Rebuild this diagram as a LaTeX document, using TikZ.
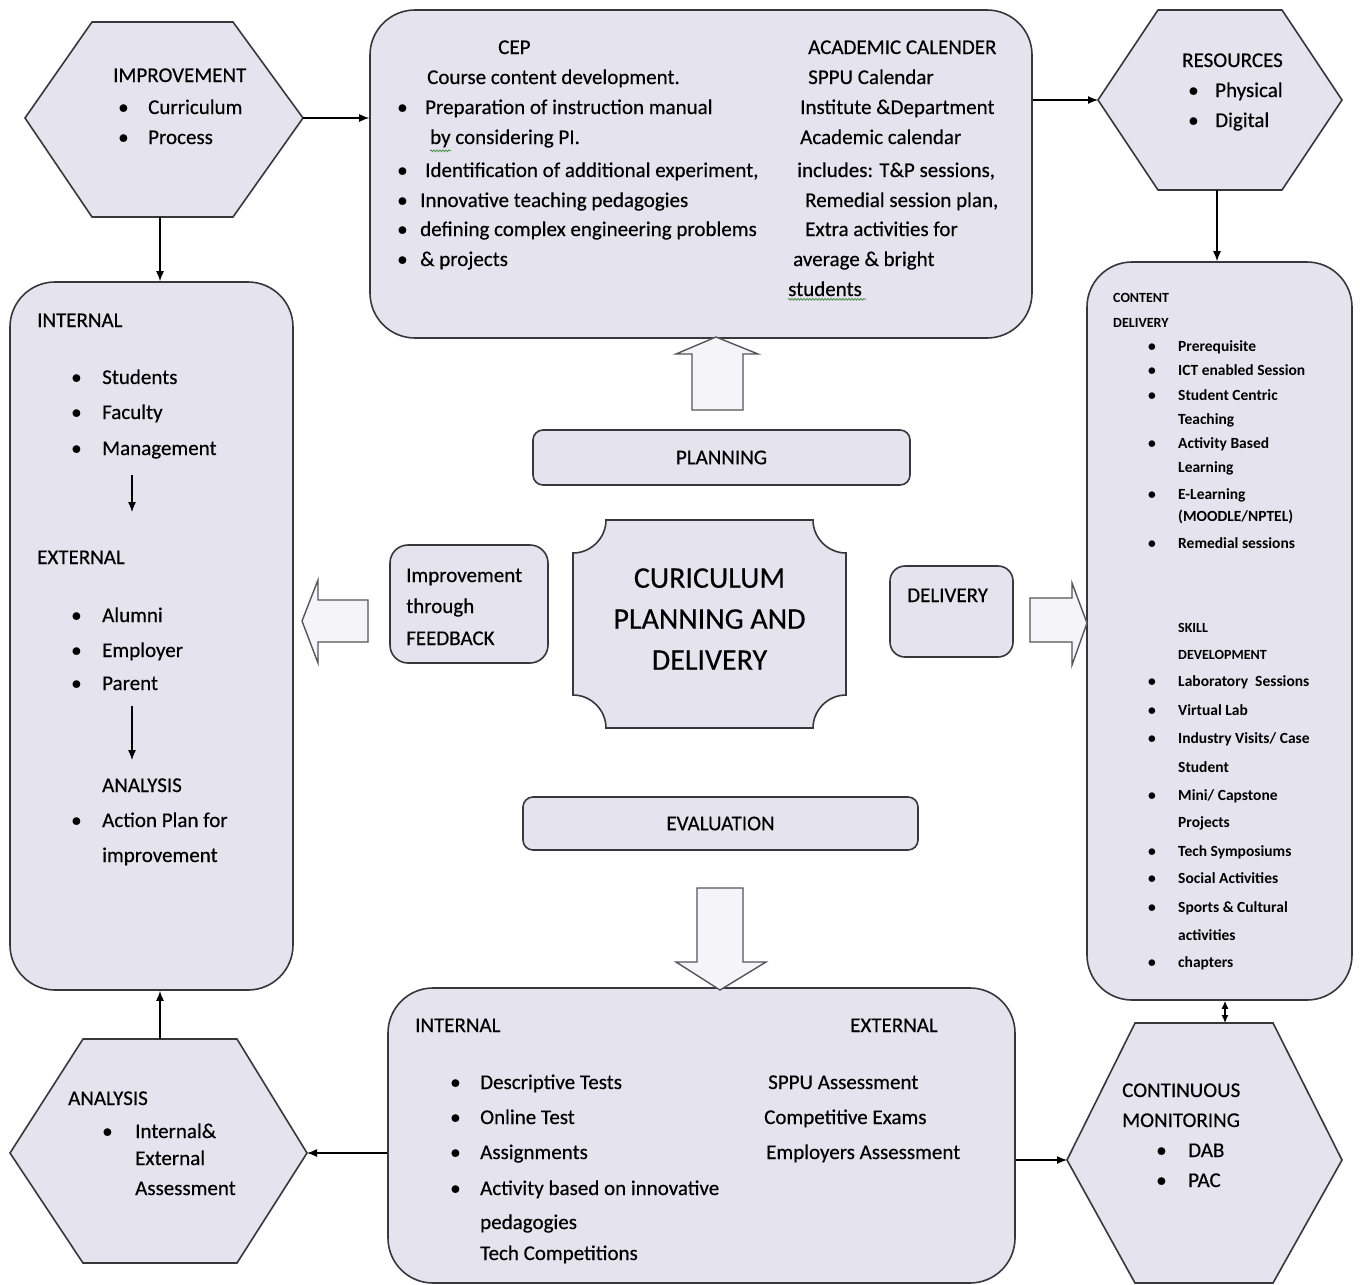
\documentclass[tikz,border=0pt]{standalone}
\usepackage{fontspec}
\setmainfont{Carlito}[FakeBold=0.35]
\newfontfamily\boldish{Carlito Bold}
\usetikzlibrary{arrows.meta,decorations.pathmorphing}
\definecolor{boxfill}{RGB}{229,227,238}
\definecolor{boxline}{RGB}{55,55,60}
\definecolor{arrfill}{RGB}{244,244,249}
\definecolor{arrline}{RGB}{85,85,90}
\definecolor{squig}{RGB}{60,140,60}
\begin{document}
\begin{tikzpicture}[x=1pt,y=-1pt,
  box/.style={draw=boxline, fill=boxfill, line width=1.6pt, rounded corners=45pt, inner sep=0pt},
  hexa/.style={draw=boxline, fill=boxfill, line width=1.6pt, line join=miter},
  blk/.style={draw=arrline, fill=arrfill, line width=1.4pt, line join=miter},
  conn/.style={line width=1.3pt, -{Latex[length=10pt,width=8pt]}},
  tx/.style={anchor=base west, inner sep=0pt, font=\fontsize{21}{24}\selectfont},
  sm/.style={anchor=base west, inner sep=0pt, font=\fontsize{15.5}{17}\boldish},
  smh/.style={anchor=base west, inner sep=0pt, font=\fontsize{14}{15}\boldish},
  mid/.style={font=\fontsize{21}{24}\selectfont}
]
\useasboundingbox (0,0) rectangle (1360,1285);
\fill[white] (0,0) rectangle (1360,1285);

% ---------- main rounded boxes ----------
\node[box, minimum width=283pt, minimum height=708pt] (lbox) at (151.5,636) {};
\node[box, minimum width=662pt, minimum height=328pt] (top) at (701,174) {};
\node[box, minimum width=265pt, minimum height=738pt] (rbox) at (1219.5,631) {};
\node[box, minimum width=627pt, minimum height=295pt] (bbox) at (701.5,1135.5) {};
\node[box, rounded corners=10pt, minimum width=377pt, minimum height=55pt, mid] (plan) at (721.5,457.5) {PLANNING};
\node[box, rounded corners=10pt, minimum width=395pt, minimum height=53pt, mid] (eval) at (720.5,823.5) {EVALUATION};
\node[box, rounded corners=18pt, minimum width=158pt, minimum height=118pt] (fb) at (469,604) {};
\node[box, rounded corners=15pt, minimum width=123pt, minimum height=91pt] (dl) at (951.5,611.5) {};

% ---------- hexagons ----------
\draw[hexa] (25,118) -- (92,22) -- (233,22) -- (303,118) -- (233,217) -- (92,217) -- cycle;
\coordinate (imp-r) at (303,118);
\coordinate (imp-b) at (160,217);
\draw[hexa] (1098,100) -- (1158,10) -- (1282,10) -- (1342,100) -- (1282,190) -- (1158,190) -- cycle;
\coordinate (res-l) at (1098,100);
\coordinate (res-b) at (1217,190);
\draw[hexa] (10,1153) -- (83,1039) -- (237,1039) -- (307,1153) -- (237,1263) -- (83,1263) -- cycle;
\coordinate (ana-r) at (307,1153);
\coordinate (ana-t) at (160,1039);
\draw[hexa] (1067,1160) -- (1135,1023) -- (1273,1023) -- (1342,1160) -- (1273,1283) -- (1135,1283) -- cycle;
\coordinate (mon-l) at (1067,1160);
\coordinate (mon-t) at (1225,1023);

% ---------- central plaque ----------
\draw[hexa] (606,520) -- (813,520) .. controls (813,538) and (828,553) .. (846,553)
  -- (846,695) .. controls (828,695) and (813,710) .. (813,728)
  -- (606,728) .. controls (606,710) and (591,695) .. (573,695)
  -- (573,553) .. controls (591,553) and (606,538) .. (606,520) -- cycle;
\node[inner sep=0pt, align=center, font=\fontsize{30}{41}\selectfont] (core) at (709.5,619) {CURICULUM\\PLANNING AND\\DELIVERY};

% ---------- block arrows ----------
\draw[blk] (692,410) -- (692,354) -- (676,354) -- (716,337) -- (758,354) -- (743,354) -- (743,410) -- cycle;
\draw[blk] (697,888) -- (743,888) -- (743,962) -- (766,962) -- (720,990) -- (676,962) -- (697,962) -- cycle;
\draw[blk] (368,600) -- (318,600) -- (318,580) -- (302,621) -- (318,663) -- (318,642) -- (368,642) -- cycle;
\draw[blk] (1030,598) -- (1072,598) -- (1072,583) -- (1087,623) -- (1072,665) -- (1072,642) -- (1030,642) -- cycle;

% ---------- connectors ----------
\draw[conn] (imp-r) -- (imp-r -| top.west);
\draw[conn] (imp-b) -- (imp-b |- lbox.north);
\draw[conn] (top.east |- res-l) -- (res-l);
\draw[conn] (res-b) -- (res-b |- rbox.north);
\draw[line width=1.3pt, {Latex[length=8pt,width=7pt]}-{Latex[length=8pt,width=7pt]}] (mon-t |- rbox.south) -- (mon-t);
\draw[conn] (bbox.east |- mon-l) -- (mon-l);
\draw[conn] (bbox.west |- ana-r) -- (ana-r);
\draw[conn] (ana-t) -- (ana-t |- lbox.south);
\coordinate (i1s) at (132,475); \coordinate (i1e) at (132,512);
\coordinate (i2s) at (132,706); \coordinate (i2e) at (132,760);
\draw[conn] (i1s) -- (i1e);
\draw[conn] (i2s) -- (i2e);

% ---------- IMPROVEMENT hexagon text ----------
\node[tx] (imp0) at (113,82) {IMPROVEMENT};
\node[tx] (imp1b) at (118,114) {•};
\node[tx] (imp1) at (148,114) {Curriculum};
\node[tx] (imp2b) at (118,144) {•};
\node[tx] (imp2) at (148,144) {Process};

% ---------- top box text ----------
\node[tx] (c0) at (498,54) {CEP};
\node[tx] (c1) at (427,84) {Course content development.};
\node[tx] (c2b) at (397,114) {•};
\node[tx] (c2) at (425,114) {Preparation of instruction manual};
\node[tx] (c3) at (430,144) {by considering PI.};
\node[tx] (c4b) at (397,177) {•};
\node[tx] (c4) at (425,177) {Identification of additional experiment,};
\node[tx] (c5b) at (397,207) {•};
\node[tx] (c5) at (420,207) {Innovative teaching pedagogies};
\node[tx] (c6b) at (397,236) {•};
\node[tx] (c6) at (420,236) {defining complex engineering problems};
\node[tx] (c7b) at (397,266) {•};
\node[tx] (c7) at (420,266) {\& projects};
\node[tx] (a0) at (808,54) {ACADEMIC CALENDER};
\node[tx] (a1) at (808,84) {SPPU Calendar};
\node[tx] (a2) at (800,114) {Institute \&Department};
\node[tx] (a3) at (800,144) {Academic calendar};
\node[tx] (a4) at (797,177) {includes: T\&P sessions,};
\node[tx] (a5) at (805,207) {Remedial session plan,};
\node[tx] (a6) at (805,236) {Extra activities for};
\node[tx] (a7) at (793,266) {average \& bright};
\node[tx] (a8) at (788,296) {students};
\draw[squig, line width=0.7pt, decorate, decoration={snake, amplitude=0.9pt, segment length=3pt}] (a8.south west) ++(0,3) -- ++(78,0);
\draw[squig, line width=0.7pt, decorate, decoration={snake, amplitude=0.9pt, segment length=3pt}] (c3.south west) ++(0,3) -- ++(21,0);

% ---------- RESOURCES ----------
\node[tx] (r0) at (1182,67) {RESOURCES};
\node[tx] (r1b) at (1188,97) {•};
\node[tx] (r1) at (1215,97) {Physical};
\node[tx] (r2b) at (1188,127) {•};
\node[tx] (r2) at (1215,127) {Digital};

% ---------- left box ----------
\node[tx] (l0) at (37,327) {INTERNAL};
\node[tx] (l1b) at (71,384) {•};
\node[tx] (l1) at (102,384) {Students};
\node[tx] (l2b) at (71,419) {•};
\node[tx] (l2) at (102,419) {Faculty};
\node[tx] (l3b) at (71,455) {•};
\node[tx] (l3) at (102,455) {Management};
\node[tx] (l4) at (37,564) {EXTERNAL};
\node[tx] (l5b) at (71,622) {•};
\node[tx] (l5) at (102,622) {Alumni};
\node[tx] (l6b) at (71,657) {•};
\node[tx] (l6) at (102,657) {Employer};
\node[tx] (l7b) at (71,690) {•};
\node[tx] (l7) at (102,690) {Parent};
\node[tx] (l8) at (102,792) {ANALYSIS};
\node[tx] (l9b) at (71,827) {•};
\node[tx] (l9) at (102,827) {Action Plan for};
\node[tx] (l10) at (102,862) {improvement};

% ---------- feedback / delivery ----------
\node[tx] (f1) at (406,582) {Improvement};
\node[tx] (f2) at (406,613) {through};
\node[tx] (f3) at (406,645) {FEEDBACK};
\node[tx] (d1) at (907,602) {DELIVERY};

% ---------- right box ----------
\node[smh] (k0) at (1113,302) {CONTENT};
\node[smh] (k1) at (1113,327) {DELIVERY};
\node[sm] (kb1) at (1148,351) {•};
\node[sm] (k1a) at (1178,351) {Prerequisite};
\node[sm] (kb2) at (1148,375) {•};
\node[sm] (k2) at (1178,375) {ICT enabled Session};
\node[sm] (kb3) at (1148,400) {•};
\node[sm] (k3) at (1178,400) {Student Centric};
\node[sm] (k3a) at (1178,424) {Teaching};
\node[sm] (kb4) at (1148,448) {•};
\node[sm] (k4) at (1178,448) {Activity Based};
\node[sm] (k4a) at (1178,472) {Learning};
\node[sm] (kb5) at (1148,499) {•};
\node[sm] (k5) at (1178,499) {E-Learning};
\node[sm] (k5a) at (1178,521) {(MOODLE/NPTEL)};
\node[sm] (kb6) at (1148,548) {•};
\node[sm] (k6) at (1178,548) {Remedial sessions};
\node[smh] (s0) at (1178,632) {SKILL};
\node[smh] (s1) at (1178,659) {DEVELOPMENT};
\node[sm] (sb1) at (1148,686) {•};
\node[sm] (s2) at (1178,686) {Laboratory\ \ Sessions};
\node[sm] (sb2) at (1148,715) {•};
\node[sm] (s3) at (1178,715) {Virtual Lab};
\node[sm] (sb3) at (1148,743) {•};
\node[sm] (s4) at (1178,743) {Industry Visits/ Case};
\node[sm] (s4a) at (1178,772) {Student};
\node[sm] (sb5) at (1148,800) {•};
\node[sm] (s5) at (1178,800) {Mini/ Capstone};
\node[sm] (s5a) at (1178,827) {Projects};
\node[sm] (sb6) at (1148,856) {•};
\node[sm] (s6) at (1178,856) {Tech Symposiums};
\node[sm] (sb7) at (1148,883) {•};
\node[sm] (s7) at (1178,883) {Social Activities};
\node[sm] (sb8) at (1148,912) {•};
\node[sm] (s8) at (1178,912) {Sports \& Cultural};
\node[sm] (s8a) at (1178,940) {activities};
\node[sm] (sb9) at (1148,967) {•};
\node[sm] (s9) at (1178,967) {chapters};

% ---------- bottom box ----------
\node[tx] (b0) at (415,1032) {INTERNAL};
\node[tx] (b0r) at (850,1032) {EXTERNAL};
\node[tx] (b1b) at (450,1089) {•};
\node[tx] (b1) at (480,1089) {Descriptive Tests};
\node[tx] (b2b) at (450,1124) {•};
\node[tx] (b2) at (480,1124) {Online Test};
\node[tx] (b3b) at (450,1159) {•};
\node[tx] (b3) at (480,1159) {Assignments};
\node[tx] (b4b) at (450,1195) {•};
\node[tx] (b4) at (480,1195) {Activity based on innovative};
\node[tx] (b5) at (480,1229) {pedagogies};
\node[tx] (b6) at (480,1260) {Tech Competitions};
\node[tx] (e1) at (768,1089) {SPPU Assessment};
\node[tx] (e2) at (764,1124) {Competitive Exams};
\node[tx] (e3) at (766,1159) {Employers Assessment};

% ---------- ANALYSIS hexagon ----------
\node[tx] (n0) at (68,1105) {ANALYSIS};
\node[tx] (n1b) at (102,1138) {•};
\node[tx] (n1) at (135,1138) {Internal\&};
\node[tx] (n2) at (135,1165) {External};
\node[tx] (n3) at (135,1195) {Assessment};

% ---------- MONITORING hexagon ----------
\node[tx] (m0) at (1122,1097) {CONTINUOUS};
\node[tx] (m1) at (1122,1127) {MONITORING};
\node[tx] (m2b) at (1156,1157) {•};
\node[tx] (m2) at (1188,1157) {DAB};
\node[tx] (m3b) at (1156,1187) {•};
\node[tx] (m3) at (1188,1187) {PAC};
\end{tikzpicture}
\end{document}
